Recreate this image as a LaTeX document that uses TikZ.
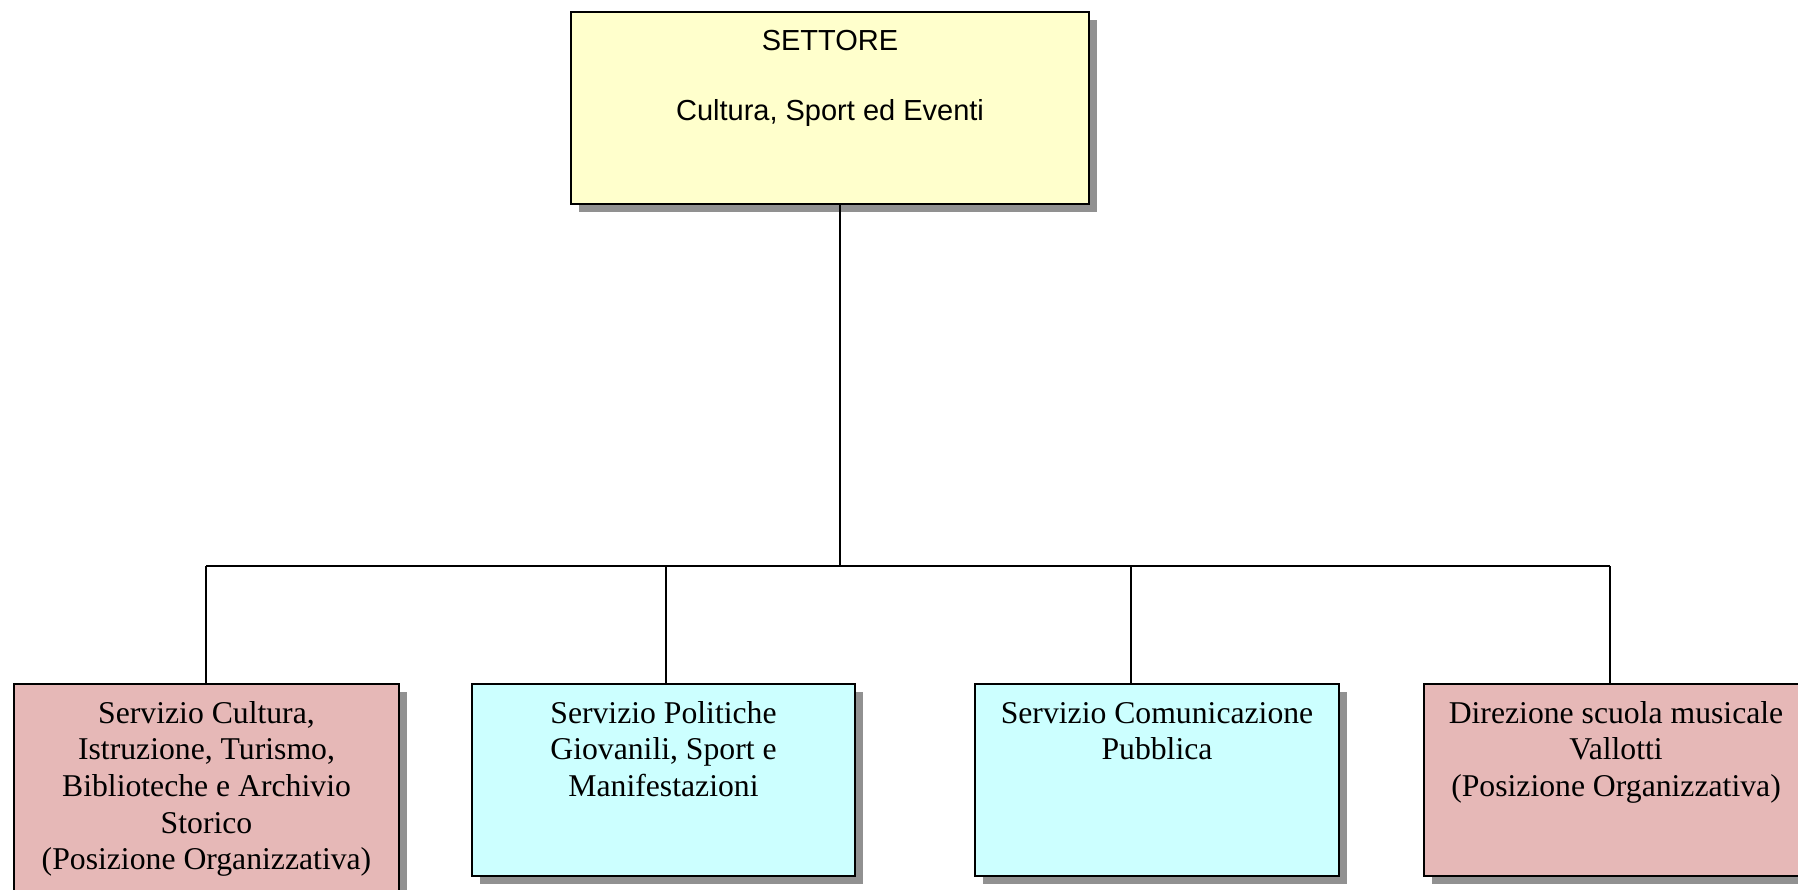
\documentclass[tikz,border=0pt]{standalone}
\usepackage{fontspec}
\setmainfont{Liberation Serif}
\newfontfamily\arialfont{Liberation Sans}
\usepackage{tikz}
\usetikzlibrary{shadows, positioning}
\definecolor{giallino}{RGB}{255,255,204}
\definecolor{rosato}{RGB}{230,184,183}
\definecolor{azzurrino}{RGB}{204,255,255}
\definecolor{ombra}{RGB}{145,145,145}
\def\boxh{192}

\tikzset{
  ufficio/.style={draw=black, line width=2pt, inner sep=0pt, anchor=north, align=center,
    font=\fontsize{31.7}{36.7}\selectfont,
    drop shadow={shadow xshift=8pt, shadow yshift=-8pt, fill=ombra, opacity=1}},
  link/.style={draw=black, line width=1.5pt},
}

\begin{document}
\begin{tikzpicture}[x=1pt, y=-1pt]
  \useasboundingbox (0,0) rectangle (1798,889);
  \clip (0,0) rectangle (1798,889);
  % settore
  \node[ufficio, fill=giallino, font=\arialfont\fontsize{29}{35}\selectfont] (settore) at (830,11)
    {\parbox[t][\boxh pt][t]{518pt}{\centering\rule{0pt}{38pt}SETTORE\\[35pt]Cultura, Sport ed Eventi}};

  % servizi
  \node[ufficio, fill=rosato] (cultura) at (206.5,683)
    {\parbox[t][230pt][t]{385pt}{\centering\rule{0pt}{39pt}Servizio Cultura,\\ Istruzione, Turismo,\\ Biblioteche e Archivio\\ Storico\\ (Posizione Organizzativa)}};
  \node[ufficio, fill=azzurrino] (politiche) at (663.5,683)
    {\parbox[t][\boxh pt][t]{383pt}{\centering\rule{0pt}{39pt}Servizio Politiche\\ Giovanili, Sport e\\ Manifestazioni}};
  \node[ufficio, fill=azzurrino] (comunicazione) at (1157,683)
    {\parbox[t][\boxh pt][t]{364pt}{\centering\rule{0pt}{39pt}Servizio Comunicazione\\ Pubblica}};
  \node[ufficio, fill=rosato] (direzione) at (1616,683)
    {\parbox[t][\boxh pt][t]{384pt}{\centering\rule{0pt}{39pt}Direzione scuola musicale\\ Vallotti\\ (Posizione Organizzativa)}};

  % collegamenti
  \coordinate (snodo) at (840,566);
  \coordinate (b1) at (206,566);
  \coordinate (b2) at (666,566);
  \coordinate (b3) at (1131,566);
  \coordinate (b4) at (1610,566);
  \draw[link] (settore.south -| snodo) -- (snodo);
  \draw[link] (b1) -- (b4);
  \foreach \c/\n in {b1/cultura, b2/politiche, b3/comunicazione, b4/direzione}
    \draw[link] (\c) -- (\c |- \n.north);
\end{tikzpicture}
\end{document}
